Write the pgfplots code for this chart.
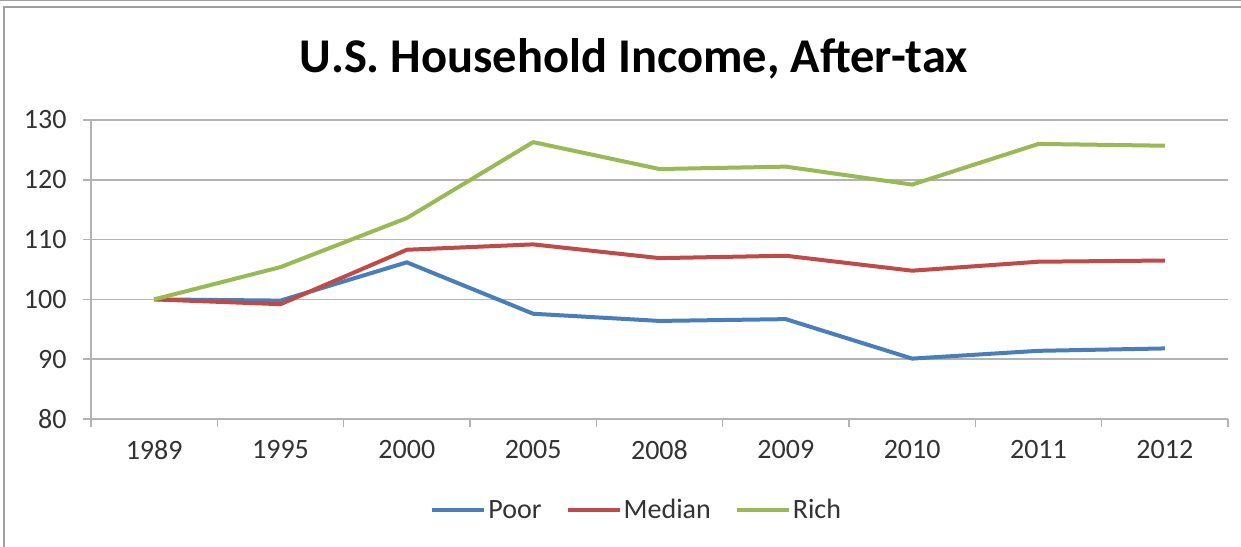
\documentclass[border=0pt]{standalone}
\usepackage{fontspec}
\setmainfont{Carlito}
\usepackage{pgfplots}
\pgfplotsset{compat=1.18}

\definecolor{poor}{HTML}{4A7EBB}
\definecolor{median}{HTML}{BE4B48}
\definecolor{rich}{HTML}{98B954}
\definecolor{gridc}{HTML}{B3B3B3}
\definecolor{labc}{HTML}{333333}
\definecolor{framec}{HTML}{A0A0A0}

\begin{document}
\begin{tikzpicture}[x=1pt,y=1pt]
\useasboundingbox (0,0) rectangle (1241,546);
\fill[white] (0,0) rectangle (1241,546);
% chart frame
\draw[framec, line width=1.5pt] (4,-10) -- (4,539) -- (1260,539);
\draw[framec, line width=1.5pt] (-5,545.5) -- (1250,545.5);
\node[font=\fontsize{48.5}{52}\selectfont\bfseries] at (634,487) {U.S. Household Income, After-tax};
\begin{axis}[
  at={(91pt,127pt)}, anchor=south west,
  scale only axis, width=1137pt, height=299pt,
  xmin=-0.5, xmax=8.5, ymin=80, ymax=130,
  axis lines*=left,
  axis line style={gridc, line width=1.5pt},
  xtick={0,...,8},
  xticklabels={1989,1995,2000,2005,2008,2009,2010,2011,2012},
  minor xtick={-0.5,0.5,...,8.5},
  ytick={80,90,...,130},
  ymajorgrids,
  major grid style={gridc, line width=1.5pt},
  tick align=outside,
  major x tick style={draw=none},
  minor x tick style={gridc, line width=1.5pt},
  major y tick style={gridc, line width=1.5pt},
  major tick length=8pt, minor tick length=8pt,
  xtick pos=bottom, ytick pos=left,
  /pgf/number format/assume math mode=true,
  ticklabel style={font=\fontsize{28}{30}\selectfont, text=labc},
  xticklabel style={yshift=-10pt},
  yticklabel style={xshift=-13pt},
  legend style={at={(0.48,-0.304)}, anchor=center, draw=none,
    font=\fontsize{28}{30}\selectfont, text=labc,
    legend columns=-1,
    /tikz/every even column/.append style={column sep=22pt}},
  legend image code/.code={\draw[#1, line width=4pt] (0,0) -- (52pt,0);},
  every axis plot/.append style={line width=4pt, line join=round},
]
\addplot[poor] coordinates {(0,100) (1,99.8) (2,106.2) (3,97.6) (4,96.4) (5,96.7) (6,90.1) (7,91.4) (8,91.8)};
\addlegendentry{Poor}
\addplot[median] coordinates {(0,100) (1,99.2) (2,108.3) (3,109.2) (4,106.9) (5,107.3) (6,104.8) (7,106.3) (8,106.5)};
\addlegendentry{Median}
\addplot[rich] coordinates {(0,100) (1,105.4) (2,113.6) (3,126.3) (4,121.8) (5,122.2) (6,119.2) (7,126.0) (8,125.7)};
\addlegendentry{Rich}
\end{axis}
\end{tikzpicture}
\end{document}
